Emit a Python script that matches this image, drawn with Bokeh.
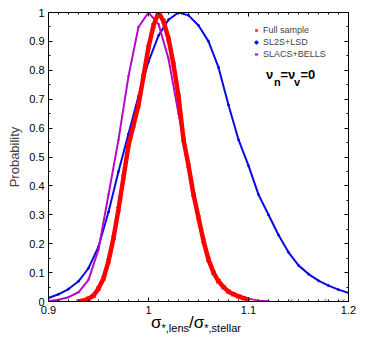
from bokeh.plotting import figure
from bokeh.layouts import column
from bokeh.models import (FixedTicker, LinearAxis, Range1d, Legend, LegendItem, Label, Div)
from bokeh.embed import file_html
from bokeh.resources import INLINE

# ---------------- data ----------------
blue_x = [0.90, 0.91, 0.92, 0.93, 0.94, 0.95, 0.96, 0.97, 0.98, 0.99, 1.00, 1.01, 1.02,
          1.03, 1.04, 1.05, 1.06, 1.07, 1.08, 1.09, 1.10, 1.11, 1.12, 1.13, 1.14, 1.15,
          1.16, 1.17, 1.18, 1.19, 1.20]
blue_y = [0.012, 0.025, 0.043, 0.07, 0.115, 0.19, 0.31, 0.45, 0.58, 0.71, 0.83, 0.92, 0.975,
          1.0, 0.99, 0.955, 0.90, 0.81, 0.68, 0.56, 0.47, 0.37, 0.30, 0.23, 0.17, 0.125,
          0.095, 0.072, 0.055, 0.041, 0.03]

mag_x = [0.90, 0.91, 0.92, 0.93, 0.94, 0.95, 0.96, 0.97, 0.98, 0.99, 1.00, 1.01, 1.02,
         1.03, 1.04, 1.05, 1.06, 1.07, 1.08, 1.09, 1.10, 1.11, 1.12]
mag_y = [0.002, 0.006, 0.015, 0.032, 0.075, 0.18, 0.37, 0.56, 0.78, 0.95, 1.0, 0.96, 0.84,
         0.65, 0.47, 0.29, 0.145, 0.07, 0.034, 0.018, 0.01, 0.003, 0.001]

red_x = [0.930, 0.935, 0.940, 0.945, 0.950, 0.955, 0.960, 0.965, 0.970, 0.975, 0.980, 0.985,
         0.990, 0.995, 1.000, 1.005, 1.010, 1.015, 1.020, 1.025, 1.030, 1.035, 1.040, 1.045,
         1.050, 1.055, 1.060, 1.065, 1.070, 1.075, 1.080, 1.085, 1.090, 1.095, 1.100]
red_y = [0.0, 0.003, 0.01, 0.02, 0.045, 0.08, 0.14, 0.22, 0.32, 0.43, 0.54, 0.61,
         0.68, 0.78, 0.88, 0.955, 1.0, 0.97, 0.91, 0.82, 0.71, 0.56, 0.47, 0.37,
         0.29, 0.21, 0.145, 0.10, 0.07, 0.05, 0.034, 0.025, 0.018, 0.012, 0.005]
red_out_x = [0.935, 1.143, 1.177, 1.195]
red_out_y = [0.003, 0.003, 0.003, 0.003]

series_names = ["Full sample", "SL2S+LSD", "SLACS+BELLS"]
x_ticks = [0.9, 1.0, 1.1, 1.2]
x_tick_labels = ["0.9", "1", "1.1", "1.2"]
y_ticks = [0, 0.1, 0.2, 0.3, 0.4, 0.5, 0.6, 0.7, 0.8, 0.9, 1.0]
y_tick_labels = ["0", "0.1", "0.2", "0.3", "0.4", "0.5", "0.6", "0.7", "0.8", "0.9", "1"]
x_minor = [0.9 + 0.01 * i for i in range(31)]
y_minor = [0.05 * i for i in range(21)]

FONT = "Liberation Sans"
BLUE = "#0a0ae6"
MAG = "#b40ac8"
RED = "#ff0000"

W, H = 368, 319
p = figure(width=W, height=H, output_backend="svg", toolbar_location=None,
           x_range=Range1d(0.9, 1.2), y_range=Range1d(0, 1),
           min_border_left=48, min_border_right=20, min_border_top=12, min_border_bottom=18)
p.xgrid.visible = False
p.ygrid.visible = False
p.outline_line_color = "black"
p.outline_line_width = 1
p.background_fill_color = "white"
p.border_fill_color = "white"


def style_axis(ax, ticks, minor, labels=None, show=True):
    ax.ticker = FixedTicker(ticks=ticks, minor_ticks=minor)
    ax.major_tick_in = 4
    ax.major_tick_out = 0
    ax.minor_tick_in = 2
    ax.minor_tick_out = 0
    ax.axis_line_color = "black"
    ax.major_tick_line_color = "black"
    ax.minor_tick_line_color = "black"
    if show:
        ax.major_label_text_font = FONT
        ax.major_label_text_font_size = "11px"
        ax.major_label_text_color = "black"
        ax.major_label_standoff = 4
        ax.major_label_overrides = {t: l for t, l in zip(ticks, labels)}
    else:
        ax.major_label_text_font_size = "1px"
        ax.major_label_text_alpha = 0
        ax.major_label_text_color = None
        ax.major_label_standoff = 0


style_axis(p.xaxis[0], x_ticks, x_minor, x_tick_labels)
style_axis(p.yaxis[0], y_ticks, y_minor, y_tick_labels)
p.yaxis[0].axis_label = "Probability"
p.yaxis[0].axis_label_text_font = FONT
p.yaxis[0].axis_label_text_font_size = "13px"
p.yaxis[0].axis_label_text_font_style = "normal"
p.yaxis[0].axis_label_standoff = 4

ax_r = LinearAxis()
style_axis(ax_r, y_ticks, y_minor, show=False)
p.add_layout(ax_r, "right")
ax_t = LinearAxis()
style_axis(ax_t, x_ticks, x_minor, show=False)
p.add_layout(ax_t, "above")

# curves
p.line(blue_x, blue_y, line_color=BLUE, line_width=2)
blue_sc = p.scatter(blue_x, blue_y, marker="circle", size=2, color=BLUE)
p.line(mag_x, mag_y, line_color=MAG, line_width=2)
mag_sc = p.scatter(mag_x, mag_y, marker="dash", size=2, line_color=MAG, line_width=2)
p.line(red_x, red_y, line_color=RED, line_width=4.5)
red_sc = p.scatter(red_x, red_y, marker="x", size=6, line_color=RED, line_width=1.5, line_alpha=0.8)
p.scatter(red_out_x, red_out_y, marker="x", size=4, line_color=RED, line_width=1, line_alpha=0.6)

legend = Legend(items=[LegendItem(label=series_names[0], renderers=[red_sc]),
                       LegendItem(label=series_names[1], renderers=[blue_sc]),
                       LegendItem(label=series_names[2], renderers=[mag_sc])],
                location=(204, 242), label_text_font=FONT, label_text_font_size="9px",
                glyph_width=8, glyph_height=8, label_height=9, label_standoff=3,
                spacing=2, padding=0, margin=0, border_line_color=None,
                background_fill_alpha=0)
p.add_layout(legend)

# nu_n = nu_v = 0 annotation
nu_parts = [("ν", 1.1175, 0.758, "13px"), ("n", 1.1255, 0.738, "11px"),
            ("=ν", 1.132, 0.758, "13px"), ("v", 1.1455, 0.738, "11px"),
            ("=0", 1.152, 0.758, "13px")]
for t, x, y, s in nu_parts:
    p.add_layout(Label(x=x, y=y, text=t, text_font=FONT, text_font_size=s,
                       text_font_style="bold", text_color="black"))

# x-axis label sigma_{*,lens} / sigma_{*,stellar}
xlabel = Div(
    text=('σ<sub style="font-size:11px">*,lens</sub>/σ'
          '<sub style="font-size:11px">*,stellar</sub>'),
    width=300, height=20, margin=(-5, 0, 0, 46),
    styles={"font-family": FONT, "font-size": "17px", "text-align": "center",
            "line-height": "18px", "color": "black", "width": "300px"})

open("out.html", "w").write(file_html(column(p, xlabel, spacing=0), INLINE))
